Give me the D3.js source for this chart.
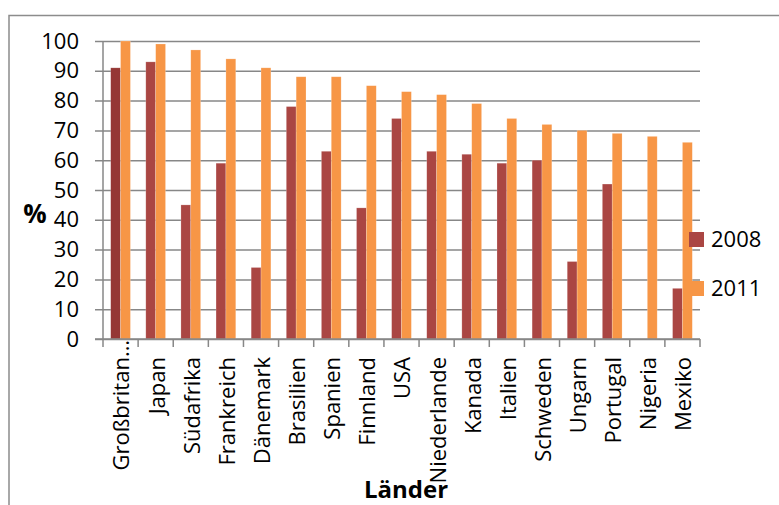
<!DOCTYPE html>
<html>
<head>
<meta charset="utf-8">
<script src="https://cdn.jsdelivr.net/npm/d3@7"></script>
<style>
  html, body { margin: 0; padding: 0; background: #fff; }
  svg { display: block; font-family: "Open Sans", sans-serif; }
</style>
</head>
<body>
<svg id="chart" width="779" height="505"></svg>
<script>
// Share of respondents per country, 2008 vs 2011 (%)
const countries = ["Großbritan…", "Japan", "Südafrika", "Frankreich", "Dänemark", "Brasilien",
  "Spanien", "Finnland", "USA", "Niederlande", "Kanada", "Italien", "Schweden", "Ungarn",
  "Portugal", "Nigeria", "Mexiko"];
const values2008 = [91, 93, 45, 59, 24, 78, 63, 44, 74, 63, 62, 59, 60, 26, 52, null, 17];
const values2011 = [100, 99, 97, 94, 91, 88, 88, 85, 83, 82, 79, 74, 72, 70, 69, 68, 66];
const seriesNames = ["2008", "2011"];
const yTicks = [0, 10, 20, 30, 40, 50, 60, 70, 80, 90, 100];

const colors = { "2008": "#AA4643", "2011": "#F79646" };
const highlightColor = "#953735"; // first 2008 point is drawn in a darker shade

const svg = d3.select("#chart");
const plot = { left: 103, right: 700, top: 41, bottom: 339 };
const gridColor = "#878787";

// Outer chart frame (runs past the right and bottom edges)
svg.append("path")
  .attr("d", "M9,505V15.5H779")
  .attr("fill", "none")
  .attr("stroke", "#8c8c8c")
  .attr("stroke-width", 1.5);

const x = d3.scaleBand().domain(countries).range([plot.left, plot.right]).padding(0);
const xSub = d3.scaleBand().domain(seriesNames).range([0, x.bandwidth()])
  .paddingInner(0).paddingOuter(0.78);
const y = d3.scaleLinear().domain([0, 100]).range([plot.bottom, plot.top]);

// Horizontal gridlines with left tick stubs
const yAxis = d3.axisLeft(y).tickValues(yTicks).tickSize(plot.right - plot.left + 8)
  .tickPadding(16);
const gy = svg.append("g")
  .attr("transform", `translate(${plot.right},0)`)
  .call(yAxis);
gy.select(".domain").remove();
gy.selectAll(".tick line").attr("stroke", gridColor).attr("stroke-width", 1.5);
gy.selectAll(".tick text")
  .attr("x", -(plot.right - plot.left) - 24)
  .attr("fill", "#000")
  .style("font-size", "22px")
  .style("font-family", "'Open Sans', sans-serif");

// Vertical axis line
svg.append("line")
  .attr("x1", plot.left).attr("x2", plot.left)
  .attr("y1", plot.top).attr("y2", plot.bottom)
  .attr("stroke", gridColor).attr("stroke-width", 1.5);

// Bars
const rows = countries.map((c, i) => ({ country: c, i, vals: [values2008[i], values2011[i]] }));
const groups = svg.append("g").selectAll("g")
  .data(rows).join("g")
  .attr("transform", d => `translate(${x(d.country)},0)`);

groups.selectAll("rect")
  .data(d => seriesNames.map((s, k) => ({ series: s, value: d.vals[k], idx: d.i }))
    .filter(v => v.value != null))
  .join("rect")
  .attr("x", d => xSub(d.series))
  .attr("width", xSub.bandwidth())
  .attr("y", d => y(d.value))
  .attr("height", d => y(0) - y(d.value))
  .attr("fill", d => (d.series === "2008" && d.idx === 0) ? highlightColor : colors[d.series])
  .attr("stroke", "rgba(255,255,255,0.35)")
  .attr("stroke-width", 0.6);

// Category axis with tick marks at band boundaries
const boundaries = countries.map(c => x(c)).concat([plot.right]);
const gx = svg.append("g");
gx.append("line")
  .attr("x1", plot.left - 8).attr("x2", plot.right)
  .attr("y1", plot.bottom).attr("y2", plot.bottom)
  .attr("stroke", gridColor).attr("stroke-width", 1.5);
gx.selectAll("line.tick")
  .data(boundaries).join("line")
  .attr("class", "tick")
  .attr("x1", d => d).attr("x2", d => d)
  .attr("y1", plot.bottom).attr("y2", plot.bottom + 8)
  .attr("stroke", gridColor).attr("stroke-width", 1.5);

gx.selectAll("text")
  .data(countries).join("text")
  .attr("transform", d => {
    const top = d.endsWith("…") ? 340 : 357;
    return `translate(${x(d) + x.bandwidth() / 2 + 1},${top}) rotate(-90)`;
  })
  .attr("text-anchor", "end")
  .attr("dy", "0.36em")
  .style("font-size", "22px")
  .text(d => d);

// Axis titles
svg.append("text")
  .attr("x", 35).attr("y", 223)
  .attr("text-anchor", "middle")
  .style("font-size", "26px").style("font-weight", "bold")
  .text("%");

svg.append("text")
  .attr("x", 406).attr("y", 498)
  .attr("text-anchor", "middle")
  .style("font-size", "24px").style("font-weight", "bold")
  .text("Länder");

// Legend
const legend = svg.append("g").selectAll("g")
  .data(seriesNames).join("g")
  .attr("transform", (d, i) => `translate(689,${232 + i * 49})`);
legend.append("rect")
  .attr("width", 15).attr("height", 15)
  .attr("fill", d => colors[d]);
legend.append("text")
  .attr("x", 22).attr("y", 15)
  .style("font-size", "22px")
  .text(d => d);
</script>
</body>
</html>
